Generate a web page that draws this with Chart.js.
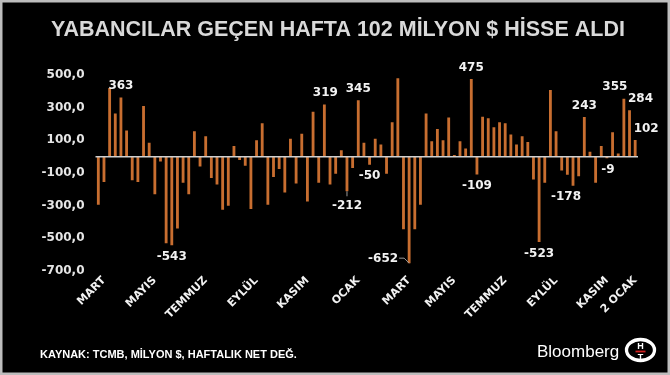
<!DOCTYPE html>
<html><head><meta charset="utf-8">
<script src="https://cdn.jsdelivr.net/npm/chart.js@4.4.1/dist/chart.umd.min.js"></script>
<style>
html,body{margin:0;padding:0;background:#000;}
#wrap{position:relative;width:670px;height:375px;}
canvas{display:block;}
</style></head><body>
<div id="wrap"><canvas id="c" width="670" height="375"></canvas></div>
<script>
const titleText = 'YABANCILAR GEÇEN HAFTA 102 MİLYON $ HİSSE ALDI';
const sourceText = 'KAYNAK: TCMB, MİLYON $, HAFTALIK NET DEĞ.';
const brandText = 'Bloomberg';

// weekly net foreign equity flows, million $
const weeklyNetFlows = [
  -295, -155, 420, 265, 363, 160, -145, -155, 310, 85,
  -230, -30, -530, -543, -440, -160, -230, 155, -60, 125,
  -130, -170, -325, -300, 65, -20, -55, -320, 100, 205,
  -295, -125, -75, -220, 110, -165, 140, -275, 275, -160,
  319, -170, -105, 40, -212, -70, 345, 85, -50, 110,
  75, -105, 210, 480, -445, -652, -445, -295, 265, 95,
  170, 100, 240, 10, 95, 50, 475, -109, 245, 235,
  180, 210, 205, 135, 75, 125, 90, -140, -523, -160,
  408, 155, -85, -110, -178, -120, 243, 30, -160, 65,
  -9, 150, 20, 355, 284, 102
];
const monthLabels = ['MART','MAYIS','TEMMUZ','EYLÜL','KASIM','OCAK','MART','MAYIS','TEMMUZ','EYLÜL','KASIM','2 OCAK'];
const monthLabelWeeks = [1, 10, 19, 28, 37, 46, 55, 63, 72, 81, 90, 95];
const annotatedWeeks = [4, 13, 40, 44, 46, 48, 55, 66, 67, 78, 84, 86, 90, 93, 94, 95];
const yTickValues = [-700, -500, -300, -100, 100, 300, 500];

const categories = weeklyNetFlows.map((_, i) => {
  const k = monthLabelWeeks.indexOf(i);
  return k >= 0 ? monthLabels[k] : '';
});

const decor = {
  id: 'decor',
  beforeDraw(chart) {
    const c = chart.ctx;
    c.save();
    c.fillStyle = '#000';
    c.fillRect(0, 0, chart.width, chart.height);
    c.strokeStyle = '#bdbdbd';
    c.lineWidth = 2.5;
    c.strokeRect(1.25, 1.25, chart.width - 2.5, chart.height - 2.5);
    c.restore();
  },
  afterDatasetsDraw(chart) {
    const c = chart.ctx, y = chart.scales.y, a = chart.chartArea;
    const y0 = y.getPixelForValue(0);
    c.save();
    c.strokeStyle = '#d0d0d0';
    c.lineWidth = 1.5;
    c.beginPath(); c.moveTo(a.left, y0); c.lineTo(a.right, y0); c.stroke();
    c.restore();
  },
  afterDraw(chart) {
    const c = chart.ctx;
    const meta = chart.getDatasetMeta(0);
    c.save();
    // title
    c.fillStyle = '#d9d9d9';
    c.font = 'bold 21.5px "Liberation Sans", Arial, sans-serif';
    c.textAlign = 'center';
    c.textBaseline = 'alphabetic';
    c.fillText(titleText, 338, 35.5);

    // value annotations
    const shift = {84: -7, 93: -9, 94: 11, 95: 11, 40: 1, 90: 1};
    c.font = 'bold 12px "DejaVu Sans", Verdana, sans-serif';
    c.fillStyle = '#f2f2f2';
    c.textBaseline = 'middle';
    annotatedWeeks.forEach(i => {
      const el = meta.data[i];
      const v = weeklyNetFlows[i];
      const txt = String(v);
      if (i === 55) {
        c.textAlign = 'right';
        c.fillText(txt, el.x - 11, el.y - 4);
        c.strokeStyle = '#9a9a9a'; c.lineWidth = 1;
        c.beginPath(); c.moveTo(el.x - 10, el.y - 5); c.lineTo(el.x - 5, el.y - 5); c.lineTo(el.x, el.y); c.stroke();
        return;
      }
      c.textAlign = 'center';
      const dx = shift[i] || 0;
      if (v >= 0) {
        c.fillText(txt, el.x + dx, el.y - 11.5);
      } else {
        const extra = (i === 44) ? 3 : 0;
        if (extra) {
          c.strokeStyle = '#9a9a9a'; c.lineWidth = 1;
          c.beginPath(); c.moveTo(el.x, el.y); c.lineTo(el.x, el.y + 5); c.stroke();
        }
        c.fillText(txt, el.x + dx, el.y + 11.5 + extra);
      }
    });

    // footer
    c.textAlign = 'left';
    c.textBaseline = 'alphabetic';
    c.fillStyle = '#ffffff';
    c.font = 'bold 11px "Liberation Sans", Arial, sans-serif';
    c.fillText(sourceText, 40, 357.5);
    c.font = '17px "Liberation Sans", Arial, sans-serif';
    c.fillText(brandText, 537, 357);

    // HT logo
    c.strokeStyle = '#ffffff';
    c.lineWidth = 3.3;
    c.beginPath(); c.ellipse(640.5, 350, 14, 10.5, 0, 0, Math.PI * 2); c.stroke();
    c.fillStyle = '#ffffff';
    c.font = 'bold 9px "Liberation Sans", Arial, sans-serif';
    c.textAlign = 'center';
    c.fillText('H', 640.5, 349);
    c.fillStyle = '#d02020';
    c.fillRect(635.5, 350.6, 10, 1.8);
    c.fillStyle = '#ffffff';
    c.fillText('T', 640.5, 359.5);
    c.restore();
  }
};

new Chart(document.getElementById('c'), {
  type: 'bar',
  data: {
    labels: categories,
    datasets: [{
      data: weeklyNetFlows,
      backgroundColor: '#c86e30',
      borderWidth: 0,
      barPercentage: 0.5,
      categoryPercentage: 1.0
    }]
  },
  options: {
    responsive: false,
    animation: false,
    devicePixelRatio: 1,
    layout: { padding: { top: 75, right: 32, left: 0, bottom: 0 } },
    plugins: { legend: { display: false }, tooltip: { enabled: false }, title: { display: false } },
    scales: {
      x: {
        grid: { display: false },
        border: { display: false },
        ticks: {
          autoSkip: false, minRotation: 45, maxRotation: 45,
          color: '#f2f2f2',
          font: { family: '"DejaVu Sans", Verdana, sans-serif', size: 11, weight: 'bold' },
          padding: -5
        },
        afterFit(s) { s.height = 104; }
      },
      y: {
        min: yTickValues[0],
        max: yTickValues[yTickValues.length - 1],
        grid: { display: false, drawTicks: false },
        border: { display: false },
        ticks: {
          stepSize: yTickValues[1] - yTickValues[0],
          padding: 11,
          color: '#e6e6e6',
          font: { family: '"DejaVu Sans", Verdana, sans-serif', size: 12, weight: 'bold' },
          callback: v => v.toFixed(1).replace('.', ',')
        },
        afterFit(s) { s.width = 95.5; }
      }
    }
  },
  plugins: [decor]
});
</script>
</body></html>
